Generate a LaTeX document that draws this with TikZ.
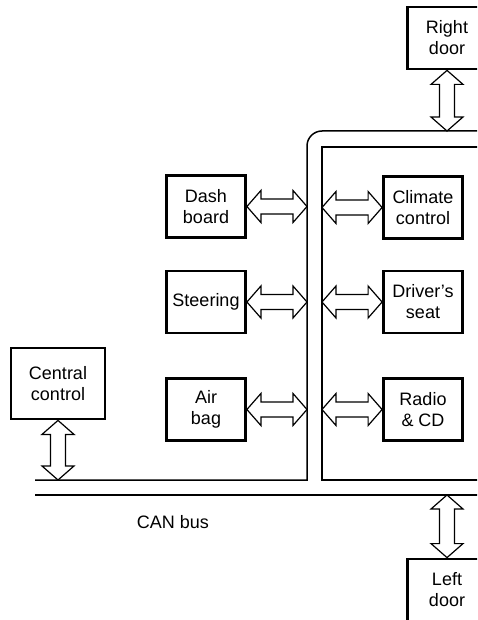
\documentclass[tikz,border=0pt]{standalone}
\usepackage{fontspec}
\setmainfont{Liberation Sans}
\usetikzlibrary{calc}

% hollow double-headed link between two points
\newcommand{\canlink}[2]{%
  \draw[link] (#1)
    -- ($(#1)!14pt!(#2)!16pt!90:(#2)$)
    -- ($(#1)!14pt!(#2)!7.5pt!90:(#2)$)
    -- ($(#2)!14pt!(#1)!7.5pt!-90:(#1)$)
    -- ($(#2)!14pt!(#1)!16pt!-90:(#1)$)
    -- (#2)
    -- ($(#2)!14pt!(#1)!16pt!90:(#1)$)
    -- ($(#2)!14pt!(#1)!7.5pt!90:(#1)$)
    -- ($(#1)!14pt!(#2)!7.5pt!-90:(#2)$)
    -- ($(#1)!14pt!(#2)!16pt!-90:(#2)$)
    -- cycle;}

\begin{document}
\begin{tikzpicture}[
  x=1pt, y=-1pt,
  every node/.style={font=\fontsize{18}{21}\selectfont, align=center},
  ecu/.style={draw, line width=2.8pt, inner sep=0pt, minimum width=79pt, minimum height=62pt},
  bus/.style={line width=1.5pt},
  link/.style={draw, fill=white, line width=1.2pt, line join=miter}
]
\useasboundingbox (0,0) rectangle (477,620);
\clip (0,0) rectangle (477,620);

% bus lines
\coordinate (outer) at (307,131);
\coordinate (inner) at (322,147);
\coordinate (canhi) at (35,480);
\coordinate (canlo) at (35,495);

\draw[bus] (canhi) -- (canhi -| outer) -- (307,146) arc[start angle=180, end angle=270, radius=15] -- (490,131);
\draw[bus] (490,480) -- (canhi -| inner) -- (inner) -- (490,147);
\draw[bus] (canlo) -- (490,495);
\node (canlbl) at (173,522) {CAN bus};

% control units
\node[ecu] (right) at (447,38) {Right\\door};
\node[ecu] (dash) at (206,206.5) {Dash\\board};
\node[ecu] (steer) at (206,302) {Steering};
\node[ecu] (airbag) at (206,409.5) {Air\\bag};
\node[ecu] (climate) at (423,207.5) {Climate\\control};
\node[ecu] (seat) at (423,302) {Driver’s\\seat};
\node[ecu] (radio) at (423,409.5) {Radio\\\& CD};
\node[ecu, minimum width=94pt, minimum height=71pt] (central) at (58,383.5) {Central\\control};
\node[ecu] (left) at (447,590) {Left\\door};

% links to the bus
\canlink{right.south}{right.south |- outer}
\canlink{dash.east}{dash.east -| outer}
\canlink{steer.east}{steer.east -| outer}
\canlink{airbag.east}{airbag.east -| outer}
\canlink{climate.west -| inner}{climate.west}
\canlink{seat.west -| inner}{seat.west}
\canlink{radio.west -| inner}{radio.west}
\canlink{central.south}{central.south |- canhi}
\canlink{left.north |- canlo}{left.north}

\end{tikzpicture}
\end{document}
